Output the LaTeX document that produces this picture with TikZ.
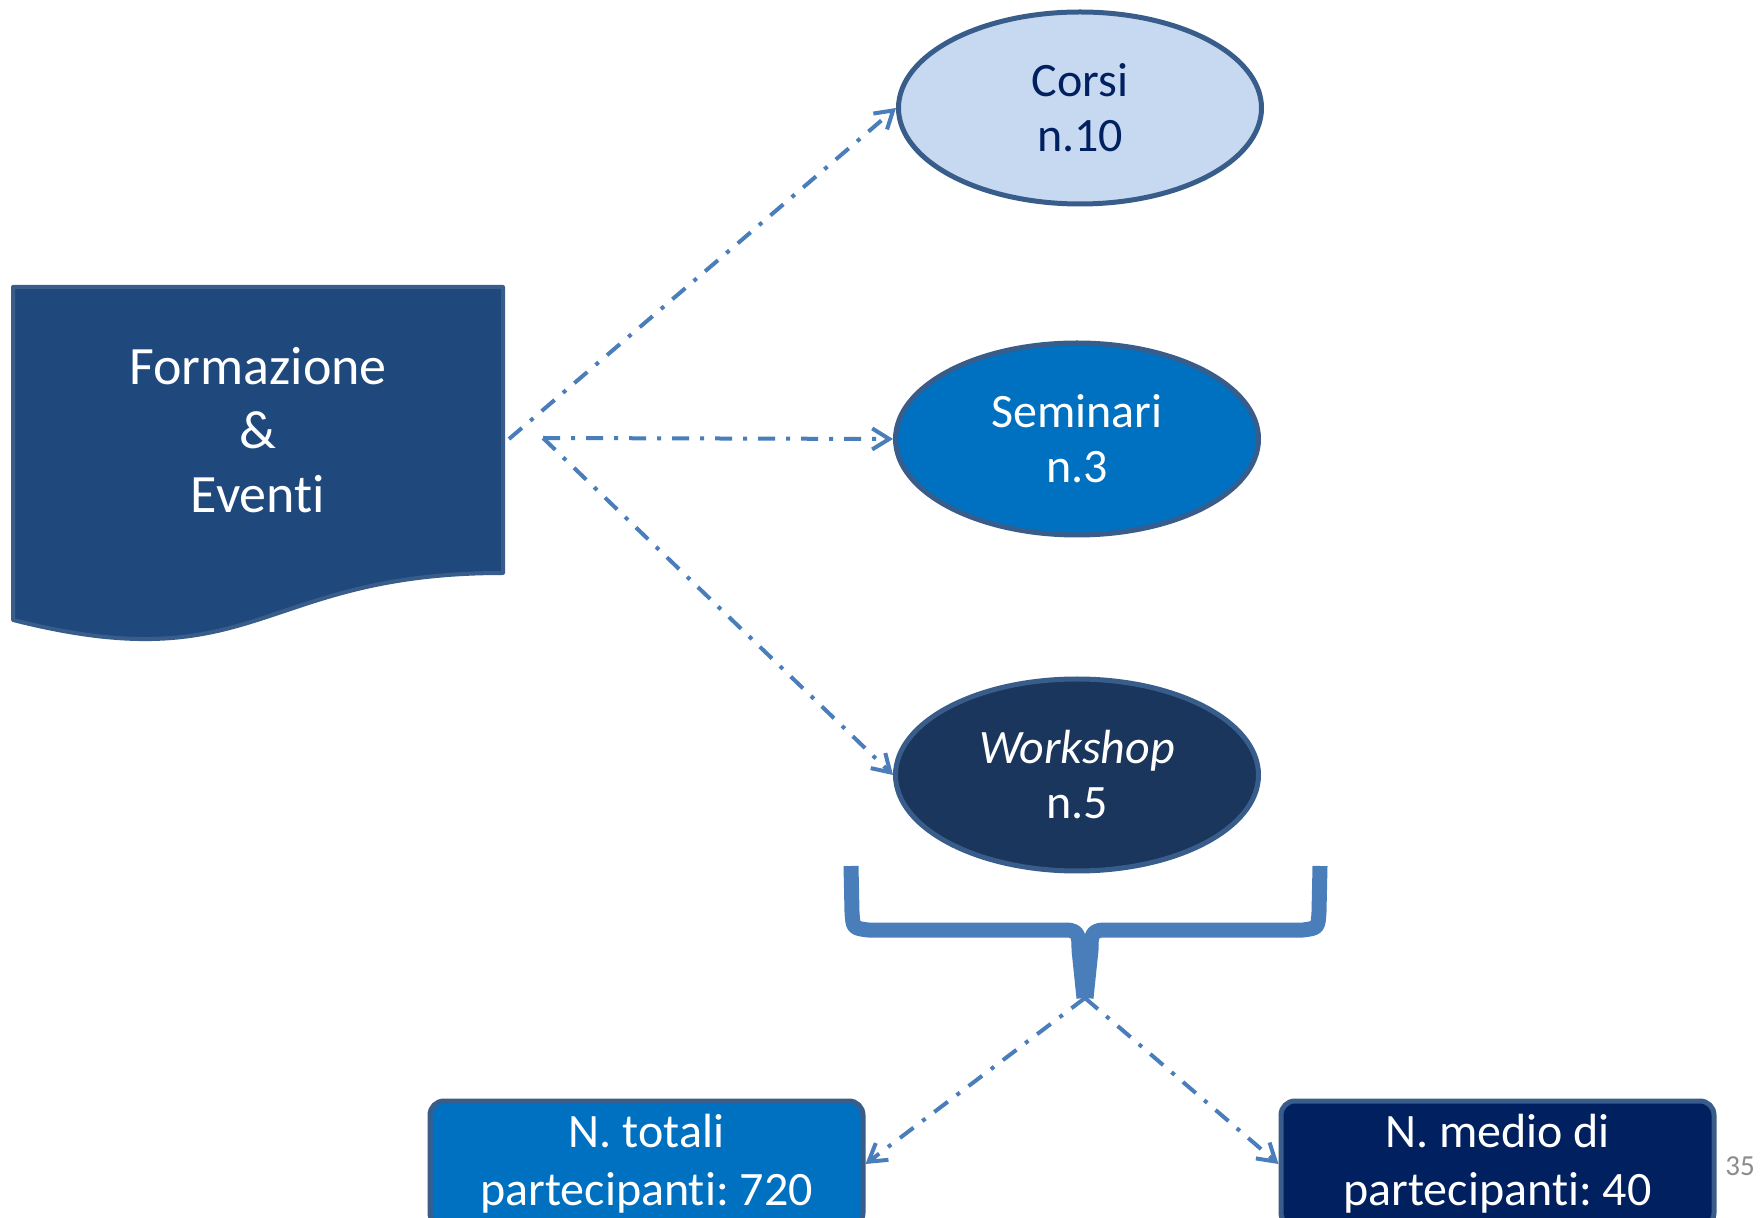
\documentclass[tikz,border=0pt]{standalone}
\usepackage{fontspec}
\setmainfont{Carlito}[Ligatures=NoCommon]
\usetikzlibrary{arrows.meta,shapes.geometric,calc}

\definecolor{docfill}{HTML}{1F497D}
\definecolor{edge}{HTML}{385D8A}
\definecolor{corsifill}{HTML}{C6D9F1}
\definecolor{navy}{HTML}{002060}
\definecolor{midblue}{HTML}{0070C0}
\definecolor{deepblue}{HTML}{1A365D}
\definecolor{linkblue}{HTML}{4A7EBB}
\definecolor{pagenum}{HTML}{8C8C8C}

\frenchspacing
\begin{document}
\begin{tikzpicture}[x=0.5pt,y=-0.5pt,
  bubble/.style={ellipse, draw=edge, line width=2.5pt, minimum width=181.5pt,
    minimum height=96pt, inner sep=0pt, align=center,
    font=\fontsize{24}{27.5}\selectfont},
  tally/.style={rectangle, rounded corners=7pt, draw=edge, line width=2.5pt,
    minimum width=216.5pt, minimum height=63pt, inner sep=0pt, align=center,
    text=white, font=\fontsize{24}{29}\selectfont},
  link/.style={draw=linkblue, line width=2pt,
    dash pattern=on 8.5pt off 5.5pt on 2pt off 5.5pt,
    -{Straight Barb[length=8.5pt,width=10.5pt,line width=2pt]}},
  bracestroke/.style={draw=linkblue, line width=7.5pt, line join=round}]

  \useasboundingbox (0,0) rectangle (1762,1218);
  \clip (0,0) rectangle (1762,1218);
  \fill[white] (0,0) rectangle (1762,1218);

  % document shape with wavy bottom edge
  \draw[fill=docfill, draw=edge, line width=2pt, line join=round]
    (13,287) -- (503,287) -- (503,573)
    .. controls (258,573) and (258,682) .. (13,620) -- cycle;
  \node[align=center, text=white, font=\fontsize{27}{32}\selectfont]
    (doc) at (258,430) {Formazione\\\&\\Eventi};

  % outgoing points beside the document
  \coordinate (s1) at (509,439);
  \coordinate (s2) at (543,438);

  % the three event types
  \node[bubble, fill=corsifill, text=navy] (corsi) at (1080,108) {Corsi\\n.10};
  \node[bubble, fill=midblue, text=white] (seminari) at (1077,439) {Seminari\\n.3};
  \node[bubble, fill=deepblue, text=white] (workshop) at (1077,775)
    {\textit{Workshop}\\n.5};

  \draw[link] (s1) -- (corsi.west);
  \draw[link] (s2) -- (seminari.west);
  \draw[link] (s2) -- (workshop.west);

  % brace grouping the events
  \draw[bracestroke] (851,866) -- (852,912) .. controls (853,928) .. (868,930)
    -- (1066,930) .. controls (1079,930) and (1079,937) .. (1079,950) -- (1084,998);
  \draw[bracestroke] (1320,866) -- (1319,912) .. controls (1318,928) .. (1303,930)
    -- (1104,930) .. controls (1091,930) and (1091,937) .. (1091,950) -- (1086,998);
  \coordinate (tip) at (1085,998);

  % totals
  \node[tally, fill=midblue] (tot) at (646.5,1164) {N. totali\\partecipanti: 720};
  \node[tally, fill=navy] (med) at (1497.5,1164) {N. medio di\\partecipanti: 40};

  \draw[link] (tip) -- (tot.east);
  \draw[link] (tip) -- (med.west);

  % page number
  \node[text=pagenum, font=\fontsize{14.5}{16}\selectfont] (pg) at (1740,1166) {35};
\end{tikzpicture}
\end{document}
